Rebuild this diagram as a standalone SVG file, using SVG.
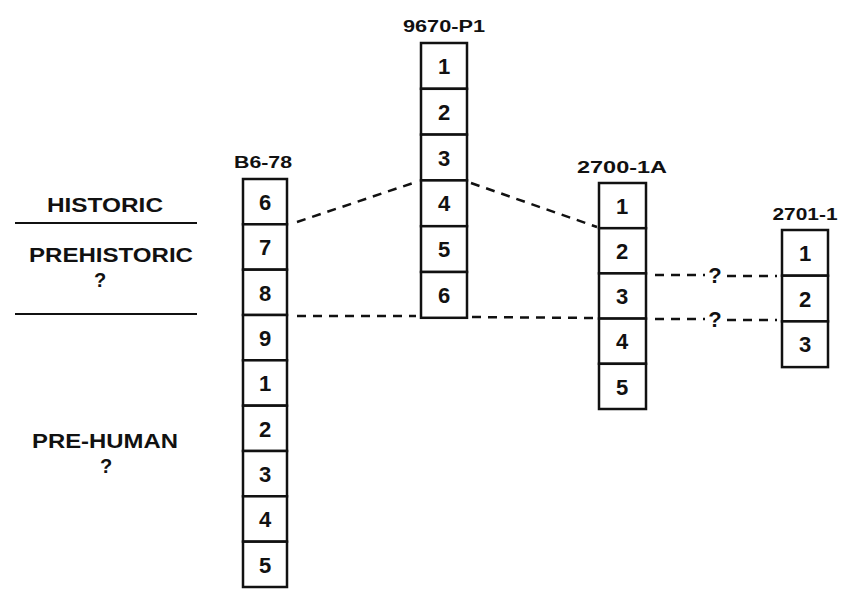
<svg xmlns="http://www.w3.org/2000/svg" width="848" height="594" viewBox="0 0 848 594">
<style>
text{font-family:"Liberation Sans",Arial,sans-serif;font-weight:bold;fill:#111}
.cell{fill:#fff;stroke:#111;stroke-width:2.5}
.num{font-size:22px;text-anchor:middle}
.q{font-size:22px;text-anchor:middle}
.lbl{font-size:16px;text-anchor:middle}
.era{font-size:20px;text-anchor:middle}
.dash{stroke:#111;stroke-width:2.5;stroke-dasharray:9 7;fill:none}
.rule{stroke:#111;stroke-width:2;fill:none}
</style>
<rect width="848" height="594" fill="#fff"/>

<g id="eras">
<text class="era" x="105" y="212" textLength="116" lengthAdjust="spacingAndGlyphs">HISTORIC</text>
<line class="rule" x1="15" y1="223" x2="197" y2="223"/>
<text class="era" x="111" y="262" textLength="164" lengthAdjust="spacingAndGlyphs">PREHISTORIC</text>
<text class="era" x="100" y="287">?</text>
<line class="rule" x1="15" y1="314" x2="197" y2="314"/>
<text class="era" x="105" y="448" textLength="146" lengthAdjust="spacingAndGlyphs">PRE-HUMAN</text>
<text class="era" x="106" y="473">?</text>
</g>

<g id="connectors">
<line class="dash" x1="297" y1="222" x2="416" y2="182"/>
<line class="dash" x1="471" y1="183" x2="597" y2="227"/>
<line class="dash" x1="297" y1="316" x2="416" y2="316"/>
<line class="dash" x1="472" y1="317" x2="595" y2="318"/>
<line class="dash" x1="655" y1="275" x2="705" y2="275"/>
<text class="q" x="715" y="283">?</text>
<line class="dash" x1="727" y1="276" x2="777" y2="276"/>
<line class="dash" x1="655" y1="319" x2="705" y2="319"/>
<text class="q" x="715" y="327">?</text>
<line class="dash" x1="727" y1="320" x2="777" y2="320"/>
</g>

<g id="col-B6-78">
<text class="lbl" x="263" y="168" textLength="58" lengthAdjust="spacingAndGlyphs">B6-78</text>
<rect class="cell" x="243" y="179" width="44" height="45.3"/>
<rect class="cell" x="243" y="224.3" width="44" height="45.3"/>
<rect class="cell" x="243" y="269.7" width="44" height="45.3"/>
<rect class="cell" x="243" y="315" width="44" height="45.3"/>
<rect class="cell" x="243" y="360.3" width="44" height="45.3"/>
<rect class="cell" x="243" y="405.7" width="44" height="45.3"/>
<rect class="cell" x="243" y="451" width="44" height="45.3"/>
<rect class="cell" x="243" y="496.3" width="44" height="45.3"/>
<rect class="cell" x="243" y="541.7" width="44" height="45.3"/>
<text class="num" x="265" y="210">6</text>
<text class="num" x="265" y="255">7</text>
<text class="num" x="265" y="301">8</text>
<text class="num" x="265" y="346">9</text>
<text class="num" x="265" y="391">1</text>
<text class="num" x="265" y="437">2</text>
<text class="num" x="265" y="482">3</text>
<text class="num" x="265" y="527">4</text>
<text class="num" x="265" y="573">5</text>
</g>

<g id="col-9670-P1">
<text class="lbl" x="444" y="32" textLength="82" lengthAdjust="spacingAndGlyphs">9670-P1</text>
<rect class="cell" x="421" y="43" width="46" height="45.8"/>
<rect class="cell" x="421" y="88.8" width="46" height="45.8"/>
<rect class="cell" x="421" y="134.6" width="46" height="45.8"/>
<rect class="cell" x="421" y="180.4" width="46" height="45.8"/>
<rect class="cell" x="421" y="226.2" width="46" height="45.8"/>
<rect class="cell" x="421" y="272" width="46" height="45.8"/>
<text class="num" x="444" y="74">1</text>
<text class="num" x="444" y="120">2</text>
<text class="num" x="444" y="166">3</text>
<text class="num" x="444" y="211">4</text>
<text class="num" x="444" y="257">5</text>
<text class="num" x="444" y="303">6</text>
</g>

<g id="col-2700-1A">
<text class="lbl" x="622" y="173" textLength="90" lengthAdjust="spacingAndGlyphs">2700-1A</text>
<rect class="cell" x="599" y="183" width="47" height="45.2"/>
<rect class="cell" x="599" y="228.2" width="47" height="45.2"/>
<rect class="cell" x="599" y="273.4" width="47" height="45.2"/>
<rect class="cell" x="599" y="318.6" width="47" height="45.2"/>
<rect class="cell" x="599" y="363.8" width="47" height="45.2"/>
<text class="num" x="622" y="214">1</text>
<text class="num" x="622" y="259">2</text>
<text class="num" x="622" y="304">3</text>
<text class="num" x="622" y="349">4</text>
<text class="num" x="622" y="395">5</text>
</g>

<g id="col-2701-1">
<text class="lbl" x="805" y="220" textLength="65" lengthAdjust="spacingAndGlyphs">2701-1</text>
<rect class="cell" x="782" y="230" width="46" height="45.7"/>
<rect class="cell" x="782" y="275.7" width="46" height="45.7"/>
<rect class="cell" x="782" y="321.4" width="46" height="45.7"/>
<text class="num" x="805" y="261">1</text>
<text class="num" x="805" y="307">2</text>
<text class="num" x="805" y="352">3</text>
</g>
</svg>
